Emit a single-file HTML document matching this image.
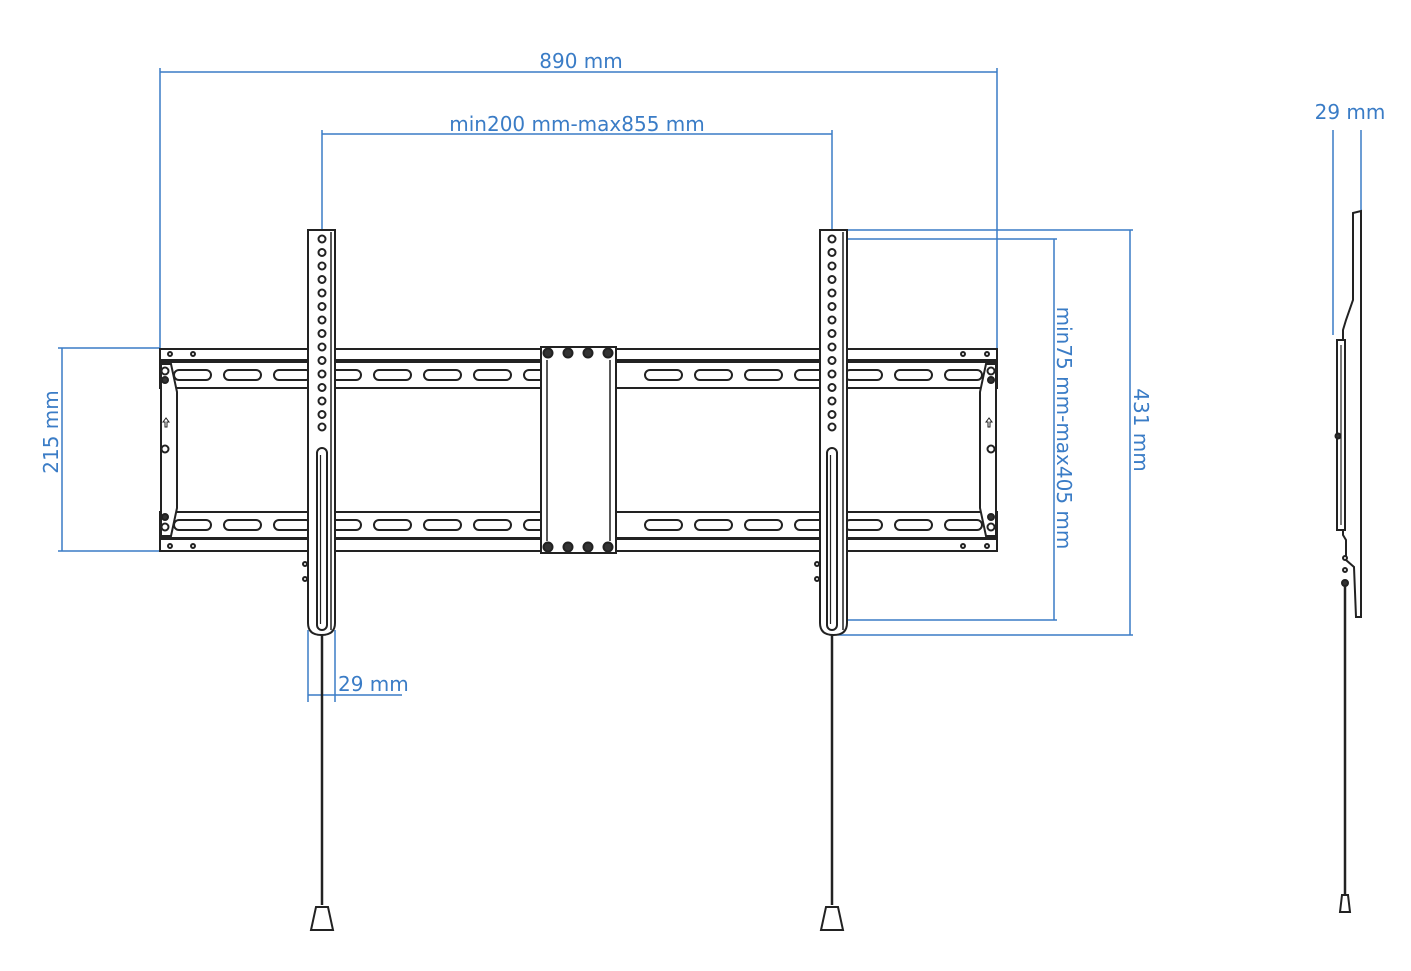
<!DOCTYPE html>
<html><head><meta charset="utf-8"><style>
html,body{margin:0;padding:0;background:#fff;}
svg{display:block;}
text{font-family:"DejaVu Sans","Liberation Sans",sans-serif;fill:#3a7cc6;font-size:20px;}
</style></head><body>
<svg id="s" width="1411" height="971" viewBox="0 0 1411 971" xmlns="http://www.w3.org/2000/svg">
<g id="blue" stroke="#3a7cc6" stroke-width="1.5" fill="none">
<!-- 890 -->
<line x1="160" y1="72" x2="997" y2="72"/><line x1="160" y1="68" x2="160" y2="348"/><line x1="997" y1="68" x2="997" y2="348"/>
<!-- min200 -->
<line x1="322" y1="134" x2="832" y2="134"/><line x1="322" y1="130" x2="322" y2="230"/><line x1="832" y1="130" x2="832" y2="230"/>
<!-- 215 -->
<line x1="62" y1="348" x2="62" y2="551"/><line x1="58" y1="348" x2="160" y2="348"/><line x1="58" y1="551" x2="160" y2="551"/>
<!-- min75 -->
<line x1="832" y1="239" x2="1057" y2="239"/><line x1="832" y1="620" x2="1057" y2="620"/><line x1="1054" y1="239" x2="1054" y2="620"/>
<!-- 431 -->
<line x1="838" y1="230" x2="1133" y2="230"/><line x1="838" y1="635" x2="1133" y2="635"/><line x1="1130" y1="230" x2="1130" y2="635"/>
<!-- 29 bottom -->
<line x1="308" y1="630" x2="308" y2="702"/><line x1="335" y1="630" x2="335" y2="702"/><line x1="308" y1="695" x2="402" y2="695"/>
<!-- 29 side -->
<line x1="1333" y1="130" x2="1333" y2="335"/><line x1="1361" y1="130" x2="1361" y2="212"/>
</g>
<text x="581" y="68" text-anchor="middle">890 mm</text>
<text x="577" y="131" text-anchor="middle">min200 mm-max855 mm</text>
<text x="1350" y="119" text-anchor="middle">29 mm</text>
<text x="338" y="691">29 mm</text>
<text transform="translate(58,432) rotate(-90)" text-anchor="middle">215 mm</text>
<text transform="translate(1057,428) rotate(90)" text-anchor="middle">min75 mm-max405 mm</text>
<text transform="translate(1134,430) rotate(90)" text-anchor="middle">431 mm</text>
<g id="blk" stroke="#222" stroke-width="2" fill="#fff"></g>
</svg>
<script>
var g=document.getElementById('blk'),h='';
function L(a,b,c,d,w){h+='<line x1="'+a+'" y1="'+b+'" x2="'+c+'" y2="'+d+'"'+(w?' stroke-width="'+w+'"':'')+'/>';}
function R(x,y,w,hh,rx){h+='<rect x="'+x+'" y="'+y+'" width="'+w+'" height="'+hh+'"'+(rx?' rx="'+rx+'"':'')+'/>';}
function C(x,y,r,f){h+='<circle cx="'+x+'" cy="'+y+'" r="'+r+'"'+(f?' fill="'+f+'"':'')+'/>';}
// frame rails
R(160,349,837,11);R(160,362,837,26);
R(160,512,837,26);R(160,539,837,12);
[[170,193],[963,987]].forEach(function(p){p.forEach(function(x){C(x,354,2,0,0);C(x,546,2);});});
for(var x=174;x<540;x+=50){R(x,370,37,10,5);R(x,520,37,10,5);}
for(var x=645;x<985;x+=50){R(x,370,37,10,5);R(x,520,37,10,5);}
// end brackets
h+='<path d="M161 364 L171 364 L177 392 L177 508 L171 536 L161 536 Z"/>';
h+='<path d="M996 364 L986 364 L980 392 L980 508 L986 536 L996 536 Z"/>';
[165,991].forEach(function(x){C(x,371,3.5);C(x,380,3,'#333');C(x,517,3,'#333');C(x,527,3.5);C(x,449,3.5);});
h+='<path d="M166 418 l-3 4 h2 v5 h2 v-5 h2 z" stroke-width="1"/><path d="M989 418 l-3 4 h2 v5 h2 v-5 h2 z" stroke-width="1"/>';
// center plate
R(541,347,75,206);L(547,360,547,541,1.5);L(610,360,610,541,1.5);
[548,568,588,608].forEach(function(x){C(x,353,4.5,'#333');C(x,547,4.5,'#333');});
// arms
[[308,322],[820,832]].forEach(function(a){var x=a[0],c=a[1];
 h+='<path d="M'+x+' 230 H'+(x+27)+' V623 Q'+(x+27)+' 635 '+(x+13.5)+' 635 Q'+x+' 635 '+x+' 623 Z"/>';
 L(x+23,232,x+23,630,1.5);
 for(var i=0;i<14;i++)C(c,239+i*13.5,3.5);C(c,427,3.5);
 R(c-5,448,10,182,5);L(c-1.5,455,c-1.5,624,1.2);
 L(c,635,c,905,2.5);
 h+='<path d="M'+(c-6)+' 907 H'+(c+6)+' L'+(c+11)+' 930 H'+(c-11)+' Z"/>';
 C(x-3,564,2,0);C(x-3,579,2);
});
// side view
h+='<path d="M1353 213 L1361 211 L1361 617 L1356 617 L1354 567 L1346 560 L1346 540 L1343 535 L1343 330 L1346 320 L1353 300 Z"/>';
R(1337,340,8,190);L(1341,345,1341,525,1.2);
C(1338,436,2.5,'#333');C(1345,583,3,'#333');C(1345,570,2);C(1345,558,2);
L(1345,585,1345,895,2.5);
h+='<path d="M1342 895 H1348 L1350 912 H1340 Z"/>';
g.innerHTML=h;
</script>
</body></html>
